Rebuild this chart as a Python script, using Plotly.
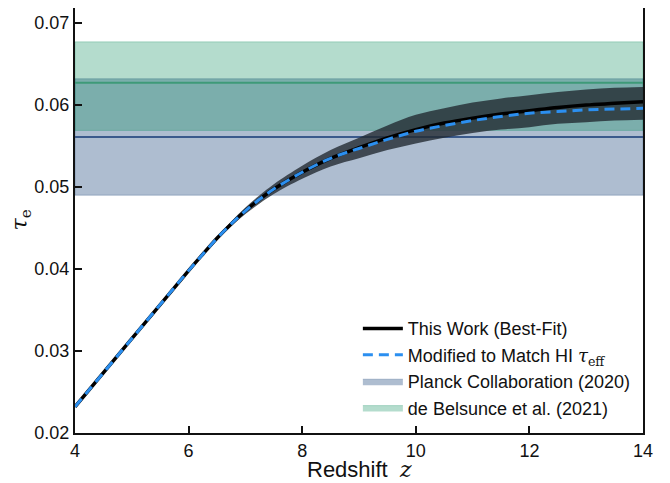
import plotly.graph_objects as go

# Redshift grid and optical depth curves
z = [4, 5, 6, 6.25, 6.5, 6.75, 7, 7.25, 7.5, 8, 8.5, 9, 9.5, 10, 10.5, 11, 11.5, 12, 12.5, 13, 13.5, 14]
tau_best = [0.0232, 0.0315, 0.0398, 0.0418, 0.04375, 0.0455, 0.0471, 0.0485, 0.04975, 0.0518,
            0.0535, 0.0548, 0.0560, 0.0570, 0.0578, 0.0584, 0.0589, 0.0593, 0.0597, 0.0600,
            0.0602, 0.0604]
tau_upper = [0.0232, 0.0315, 0.0399, 0.0419, 0.04395, 0.0458, 0.0475, 0.0490, 0.05035, 0.0526,
             0.0545, 0.0560, 0.0575, 0.0588, 0.0596, 0.0603, 0.0608, 0.0612, 0.0616, 0.0619,
             0.0621, 0.0622]
tau_lower = [0.0232, 0.0315, 0.0397, 0.0417, 0.04355, 0.0452, 0.0467, 0.0480, 0.04915, 0.0510,
             0.0525, 0.0535, 0.0545, 0.0553, 0.0560, 0.0566, 0.0570, 0.0573, 0.0577, 0.0579,
             0.0581, 0.0582]
tau_modified = [0.0232, 0.0315, 0.0398, 0.0418, 0.04375, 0.0455, 0.0471, 0.0485, 0.04975, 0.0518,
                0.0535, 0.0547, 0.0558, 0.0568, 0.0575, 0.0581, 0.0586, 0.0590, 0.0592, 0.0594,
                0.0595, 0.0596]

# CMB constraints: centre, lower, upper
planck = [0.0561, 0.0490, 0.0632]
belsunce = [0.0627, 0.0569, 0.0677]
z_span = [4, 14]

x_ticks = [4, 6, 8, 10, 12, 14]
y_ticks = [0.02, 0.03, 0.04, 0.05, 0.06, 0.07]

FONT = "Liberation Sans, Arial, Helvetica, sans-serif"
SERIF = "DejaVu Serif, serif"

fig = go.Figure()

def band(lims, fill, name, rank):
    x = [z_span[0], z_span[1], z_span[1], z_span[0], z_span[0]]
    y = [lims[1], lims[1], lims[2], lims[2], lims[1]]
    fig.add_trace(go.Scatter(x=x, y=y, fill="toself", fillcolor=fill, mode="lines",
                             line=dict(width=0.8, color=fill), name=name, legendrank=rank,
                             hoverinfo="skip"))

band(planck, "rgba(24,66,120,0.35)", "Planck Collaboration (2020)", 3)
band(belsunce, "rgba(5,138,88,0.30)", "de Belsunce et al. (2021)", 4)

fig.add_trace(go.Scatter(x=z_span, y=[planck[0]] * 2, mode="lines",
                         line=dict(color="#3b5a8c", width=2), showlegend=False))
fig.add_trace(go.Scatter(x=z_span, y=[belsunce[0]] * 2, mode="lines",
                         line=dict(color="#3e9a78", width=2), showlegend=False))

# uncertainty band of the best fit
fig.add_trace(go.Scatter(x=z, y=tau_lower, mode="lines", line=dict(width=0, shape="spline"),
                         showlegend=False, hoverinfo="skip"))
fig.add_trace(go.Scatter(x=z, y=tau_upper, mode="lines", line=dict(width=0, shape="spline"),
                         fill="tonexty", fillcolor="rgba(35,42,50,0.80)",
                         showlegend=False, hoverinfo="skip"))

fig.add_trace(go.Scatter(x=z, y=tau_best, mode="lines",
                         line=dict(color="black", width=3.5, shape="spline"),
                         name="This Work (Best-Fit)", legendrank=1))
fig.add_trace(go.Scatter(x=z, y=tau_modified, mode="lines",
                         line=dict(color="#2b8ff0", width=3, dash="10px,6px", shape="spline"),
                         name='Modified to Match HI <span style="font-family:DejaVu Serif"><i>τ</i><sub>eff</sub></span>',
                         legendrank=2))

axis_common = dict(showline=True, linewidth=2, linecolor="#111", mirror=True, ticks="inside",
                   ticklen=7, tickwidth=1.5, tickcolor="#111", showgrid=False, zeroline=False,
                   automargin=False, tickfont=dict(family=FONT, size=18, color="#111"))

# the page places the figure 8px from the top-left corner of the window
fig.update_layout(
    width=662, height=475,
    margin=dict(l=67, r=27, t=0, b=50),
    paper_bgcolor="white", plot_bgcolor="white",
    xaxis=dict(range=[4, 14], tickvals=x_ticks, **axis_common),
    yaxis=dict(range=[0.02, 0.07183], tickvals=y_ticks, tickformat=".2f", **axis_common),
    legend=dict(x=0.498, y=0.016, xanchor="left", yanchor="bottom", bgcolor="rgba(0,0,0,0)",
                traceorder="normal",
                font=dict(family=FONT, size=18, color="#111"), itemwidth=40, tracegroupgap=0),
    showlegend=True,
    annotations=[
        dict(text='Redshift&nbsp;&nbsp;<span style="font-family:DejaVu Serif"><i>z</i></span>',
             xref="paper", yref="paper", x=0.5, y=-0.051, xanchor="center", yanchor="top",
             showarrow=False, font=dict(family=FONT, size=22, color="#111")),
        dict(text="<i>τ</i><sub>e</sub>", xref="paper", yref="paper", x=-0.095, y=0.5,
             xanchor="center", yanchor="middle", textangle=-90, showarrow=False,
             font=dict(family=SERIF, size=22, color="#111")),
    ],
)

fig.write_html("out.html")
